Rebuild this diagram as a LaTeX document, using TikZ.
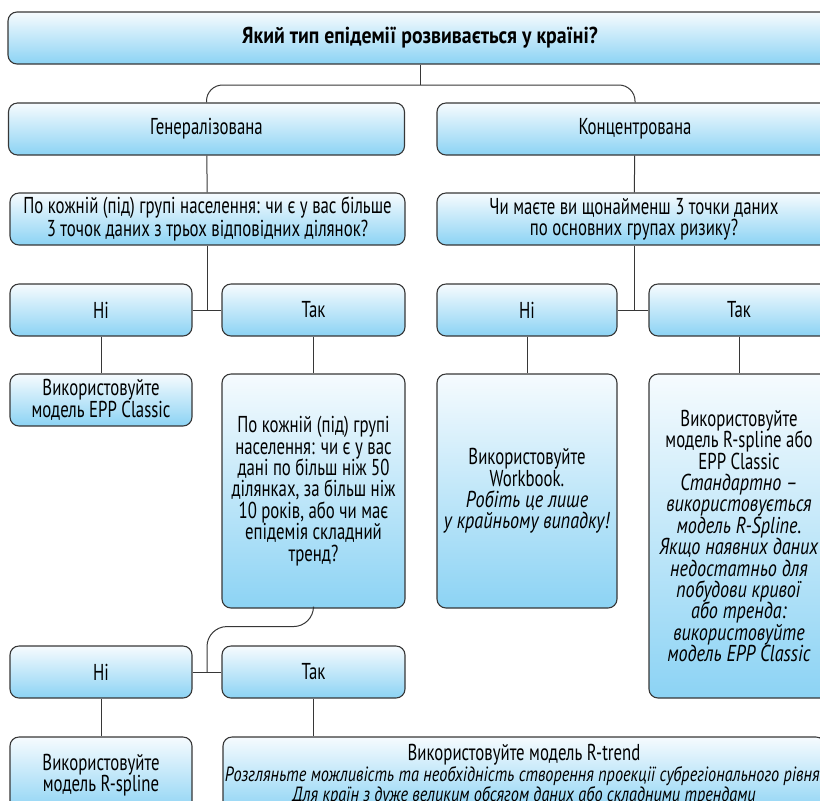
\documentclass[tikz,border=0pt]{standalone}
\usepackage{fontspec}
\setmainfont{PT Sans}[FakeStretch=0.73,
  ItalicFeatures={FakeStretch=0.79},
  BoldFeatures={FakeStretch=0.86}]
\usetikzlibrary{calc}
\definecolor{boxtop}{RGB}{246,251,254}
\definecolor{boxbottom}{RGB}{140,211,244}
\definecolor{boxline}{RGB}{55,55,55}
\tikzset{
  box/.style={draw=boxline, line width=0.55pt, rounded corners=4.5pt,
    top color=boxtop, bottom color=boxbottom, align=center, inner sep=0pt,
    font=\fontsize{11.5pt}{10.7pt}\selectfont},
  widebox/.style={box, minimum width=198pt, minimum height=26pt},
  smallbox/.style={box, minimum width=91pt, minimum height=26pt},
  tallbox/.style={box, minimum width=91pt, minimum height=117pt},
  link/.style={draw=boxline, line width=0.5pt},
}
\newcommand{\smallit}[1]{{\fontsize{10.3pt}{10.3pt}\selectfont\itshape #1}}

\begin{document}
\begin{tikzpicture}[x=0.5pt,y=-0.5pt]
        \useasboundingbox (0,0) rectangle (820,800);
        \clip (0,0) rectangle (820,800);

        % level 0
        \node[box, minimum width=412pt, minimum height=26pt] (type) at (420,38)
            {\textbf{Який тип епідемії розвивається у країні?}};
        \coordinate (split) at (420,85);

        % level 1
        \node[widebox] (gen) at (206.5,129) {Генералізована};
        \node[widebox] (conc) at (635,129) {Концентрована};

        \node[widebox, minimum width=197.5pt] (askgen) at (207.5,219)
            {По кожній (під) групі населення: чи є у вас більше\\3 точок даних з трьох відповідних ділянок?};
        \node[widebox, minimum width=197pt] (askconc) at (634,219)
            {Чи маєте ви щонайменш 3 точки даних\\по основних групах ризику?};

        % level 2
        \node[smallbox] (nogen) at (101,310) {Ні};
        \node[smallbox, minimum width=91.5pt] (yesgen) at (313.5,310) {Так};
        \node[smallbox, minimum width=90pt] (noconc) at (527,310) {Ні};
        \node[smallbox, minimum width=90pt] (yesconc) at (739,310) {Так};

        \node[smallbox] (eppgen) at (101,400) {Використовуйте\\модель EPP Classic};
        \node[tallbox, minimum width=91.5pt] (askmore) at (313.5,491)
            {По кожній (під) групі\\населення: чи є у вас\\дані по більш ніж 50\\ділянках, за більш ніж\\10 років, або чи має\\епідемія складний\\тренд?};
        \node[tallbox, minimum width=90pt] (workbook) at (527,491)
            {Використовуйте\\Workbook.\\\textit{Робіть це лише}\\\textit{у крайньому випадку!}};
        \node[tallbox, minimum width=90pt, minimum height=162pt] (spline) at (739,536)
            {Використовуйте\\модель R-spline або\\EPP Classic\\\textit{Стандартно –}\\\textit{використовується}\\\textit{модель R-Spline.}\\\textit{Якщо наявних даних}\\\textit{недостатньо для}\\\textit{побудови кривої}\\\textit{або тренда:}\\\textit{використовуйте}\\\textit{модель EPP Classic}};

        % level 3
        \node[smallbox] (nomore) at (101,672) {Ні};
        \node[smallbox, minimum width=91.5pt] (yesmore) at (313.5,672) {Так};
        \coordinate (join) at (207,672);

        \node[smallbox, minimum height=38pt] (rspline) at (101,775)
            {Використовуйте\\модель R-spline};
        \node[box, minimum width=301pt, minimum height=38pt,
              font=\fontsize{11.5pt}{10.3pt}\selectfont] (rtrend) at (524,775)
            {Використовуйте модель R-trend\\\smallit{Розгляньте можливість та необхідність створення проекції субрегіонального рівня.}\\\smallit{Для країн з дуже великим обсягом даних або складними трендами}};

        % connectors
        \draw[link] (type.south) -- (split);
        \draw[link, rounded corners=8] (gen.north) |- (split) -| (conc.north);
        \draw[link] (gen) -- (askgen);
        \draw[link] (conc) -- (askconc);

        \draw[link] (askgen.south) -- (askgen.south |- nogen.east);
        \draw[link] (nogen.east) -- (yesgen.west);
        \draw[link] (askconc.south) -- (askconc.south |- noconc.east);
        \draw[link] (noconc.east) -- (yesconc.west);

        \draw[link] (nogen) -- (eppgen);
        \draw[link] (yesgen) -- (askmore);
        \draw[link] (noconc) -- (workbook);
        \draw[link] (yesconc) -- (spline);

        \draw[link, rounded corners=10] (askmore.south) -- ++(0,18) -| (join);
        \draw[link] (nomore.east) -- (yesmore.west);
        \draw[link] (nomore) -- (rspline);
        \draw[link] (yesmore.south) -- (yesmore.south |- rtrend.north);
\end{tikzpicture}
\end{document}
